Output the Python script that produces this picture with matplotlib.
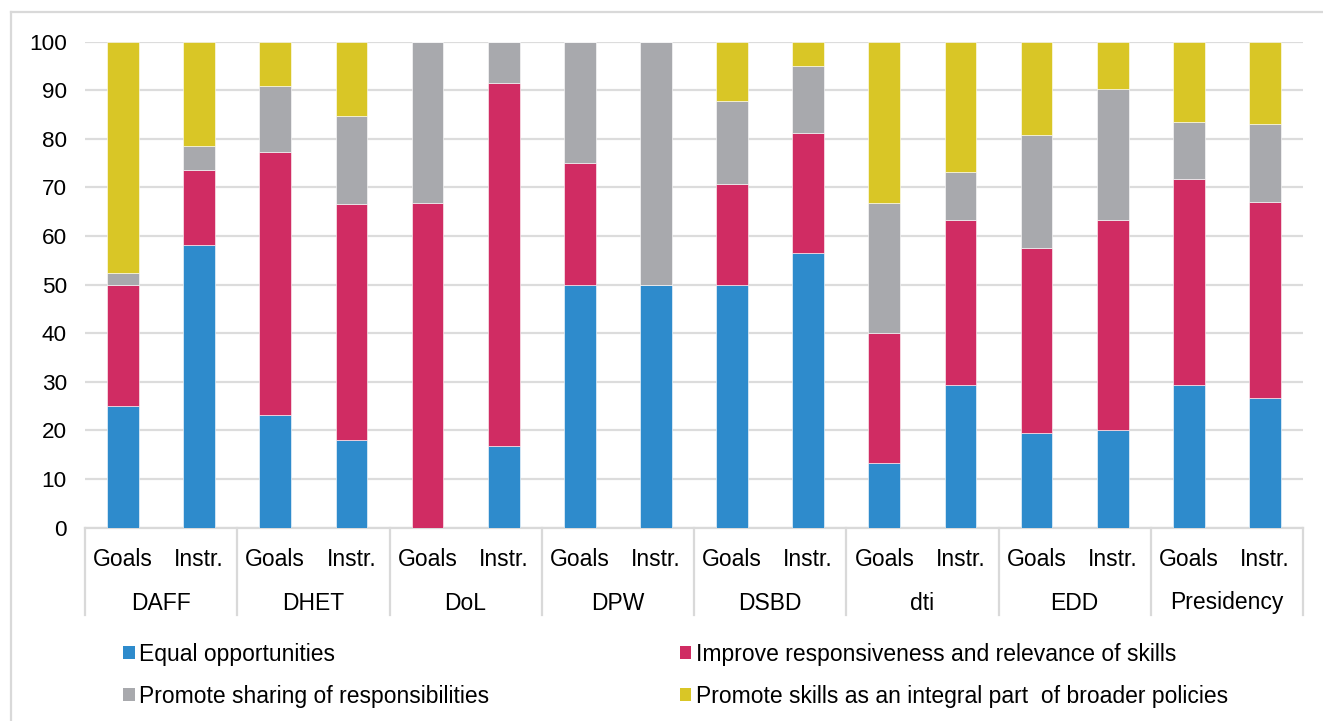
import matplotlib
matplotlib.use("Agg")
import matplotlib.pyplot as plt
import matplotlib.transforms as mtransforms
from matplotlib.patches import Patch
from matplotlib.lines import Line2D
import numpy as np

plt.rcParams['font.family'] = ['Liberation Sans', 'DejaVu Sans']

groups = ["DAFF", "DHET", "DoL", "DPW", "DSBD", "dti", "EDD", "Presidency"]
sub_labels = ["Goals", "Instr."]
series_names = ["Equal opportunities",
                "Improve responsiveness and relevance of skills",
                "Promote sharing of responsibilities",
                "Promote skills as an integral part  of broader policies"]
colors = ["#2e8bcc", "#d02c63", "#a8a9ad", "#d9c626"]

# order: DAFF G, DAFF I, DHET G, DHET I, ...
equal_opp = [25.0, 58.1, 23.1, 18.0, 0.0, 16.7, 50.0, 50.0, 50.0, 56.6, 13.3, 29.3, 19.4, 20.0, 29.3, 26.6]
improve = [25.0, 15.4, 54.2, 48.6, 66.7, 74.9, 25.0, 0.0, 20.8, 24.6, 26.7, 33.9, 38.2, 43.3, 42.4, 40.4]
sharing = [2.4, 5.1, 13.6, 18.2, 33.3, 8.4, 25.0, 50.0, 17.0, 13.7, 26.7, 10.0, 23.2, 26.9, 11.8, 16.1]
broader = [47.6, 21.4, 9.1, 15.2, 0.0, 0.0, 0.0, 0.0, 12.2, 5.1, 33.3, 26.8, 19.2, 9.8, 16.5, 16.9]

W, H = 1323, 721
fig = plt.figure(figsize=(W / 100, H / 100), dpi=100)

# outer border (left and top visible)
fig.add_artist(Line2D([10.5 / W, 10.5 / W], [0, 1 - 11.5 / H], transform=fig.transFigure,
                      color="#d9d9d9", lw=1.6))
fig.add_artist(Line2D([10.5 / W, 1], [1 - 11.5 / H, 1 - 11.5 / H], transform=fig.transFigure,
                      color="#d9d9d9", lw=1.6))

ax_left, ax_right = 85, 1303
ax_top, ax_bot = 41.7, 527.5
ax = fig.add_axes([ax_left / W, 1 - ax_bot / H, (ax_right - ax_left) / W, (ax_bot - ax_top) / H])

x = np.arange(len(equal_opp))
bw = 0.417
bottom = np.zeros(len(x))
for vals, col, name in zip([equal_opp, improve, sharing, broader], colors, series_names):
    vals = np.array(vals)
    ax.bar(x, vals, bw, bottom=bottom, color=col, edgecolor="white", linewidth=0.4,
           label=name, zorder=3)
    bottom += vals

ax.set_xlim(-0.5, len(x) - 0.5)
ax.set_ylim(0, 100)
ax.set_yticks(np.arange(0, 101, 10))
ax.yaxis.grid(True, color="#dcdcdc", lw=1.6, zorder=0)
ax.set_axisbelow(True)
for s in ["left", "right", "top"]:
    ax.spines[s].set_visible(False)
ax.spines["bottom"].set_color("#d9d9d9")
ax.spines["bottom"].set_linewidth(1.6)
ax.tick_params(axis="y", length=0, pad=13, labelsize=16.2)
ax.tick_params(axis="x", length=0, labelbottom=False)

# category axis: separators and labels
trans = mtransforms.blended_transform_factory(ax.transData, ax.transAxes)
sep_depth = -(615 - ax_bot) / (ax_bot - ax_top)
for b in np.arange(-0.5, len(x), 2):
    ax.plot([b, b], [0, sep_depth], transform=trans, color="#d9d9d9", lw=1.6, clip_on=False)

y_sub = -(559 - ax_bot) / (ax_bot - ax_top)
y_grp = -(603 - ax_bot) / (ax_bot - ax_top)
for i in x:
    ax.text(i, y_sub, sub_labels[i % 2], transform=trans, ha="center", va="center", fontsize=16.5)
for g, name in enumerate(groups):
    ax.text(2 * g + 0.5, y_grp, name, transform=trans, ha="center", va="center", fontsize=16.5)

handles = [Patch(facecolor=c, edgecolor="none") for c in colors]
order = [0, 2, 1, 3]
leg = fig.legend([handles[i] for i in order], [series_names[i] for i in order],
                 ncol=2, loc="upper left", bbox_to_anchor=(123 / W, 1 - 643 / H),
                 frameon=False, fontsize=16.5, handlelength=0.51, handleheight=0.51,
                 handletextpad=0.2, columnspacing=8.3, labelspacing=0.83,
                 borderpad=0, borderaxespad=0)

fig.savefig("out.png", dpi=100)
